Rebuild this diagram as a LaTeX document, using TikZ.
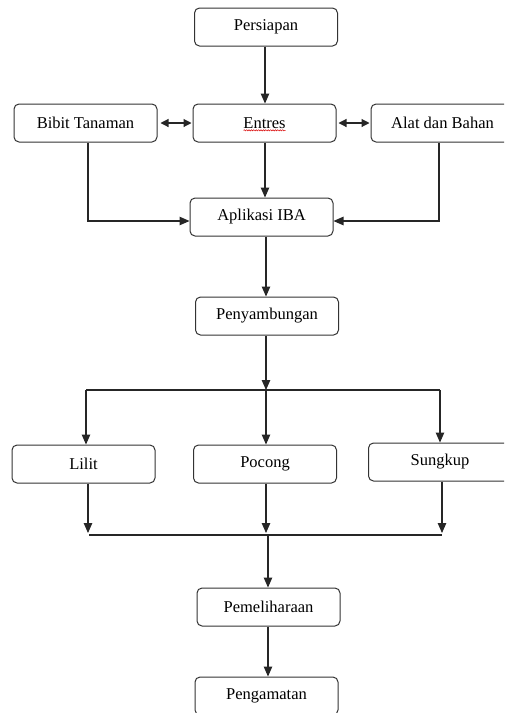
\documentclass[tikz,border=0pt]{standalone}
\usepackage{fontspec}
\setmainfont{Liberation Serif}
\usetikzlibrary{arrows.meta,decorations.pathmorphing,calc}
\begin{document}
\begin{tikzpicture}[x=1pt,y=-1pt,
  box/.style={draw=black!80,line width=1pt,rounded corners=5pt,minimum width=143pt,minimum height=38pt,inner sep=0pt,font=\fontsize{16.5}{19}\selectfont,fill=white},
  conn/.style={draw=black!85,line width=1.1pt},
  arr/.style={conn,-{Triangle[length=10pt,width=8.5pt]}},
  darr/.style={conn,{Triangle[length=8pt,width=8pt]}-{Triangle[length=8pt,width=8pt]}}]
\useasboundingbox (0,0) rectangle (504,713);
\clip (0,0) rectangle (504,713);
\fill[white] (0,0) rectangle (504,713);
% nodes
\node[box] (persiapan) at (266,27) {Persiapan};
\node[box] (entres) at (264.5,123) {Entres};
\node[box] (bibit) at (85.5,123) {Bibit Tanaman};
\node[box] (alat) at (442.5,123) {Alat dan Bahan};
\node[box] (aplikasi) at (261.5,217) {Aplikasi IBA};
\node[box] (penyambungan) at (267,316) {Penyambungan};
\node[box] (lilit) at (83.5,464) {Lilit};
\node[box] (pocong) at (265,464) {Pocong};
\node[box] (sungkup) at (440,462) {Sungkup};
\node[box] (pemeliharaan) at (268.5,607) {Pemeliharaan};
\node[box] (pengamatan) at (266.5,696) {Pengamatan};
% spell-check squiggle
\draw[red!85!black,line width=0.5pt,decorate,decoration={snake,amplitude=0.6pt,segment length=2.4pt}]
  ([xshift=-21pt,yshift=-2pt]entres.base) -- ([xshift=21pt,yshift=-2pt]entres.base);
% coordinates
\coordinate (split) at (266,390);
\coordinate (splitL) at (86,390);
\coordinate (splitR) at (440,390);
\coordinate (joinL) at (88,535);
\coordinate (joinC) at (266,535);
\coordinate (joinR) at (442,535);
\coordinate (joinM) at (268,535);
% connectors
\draw[arr] (persiapan.south -| 265,0) -- (entres.north -| 265,0);
\draw[darr,shorten <=3pt,shorten >=1pt] (bibit.east) -- (entres.west);
\draw[darr,shorten <=2pt,shorten >=1pt] (entres.east) -- (alat.west);
\draw[arr] (entres.south -| 265,0) -- (aplikasi.north -| 265,0);
\draw[arr] (bibit.south -| 88,0) |- ($(aplikasi.west)+(0,4)$);
\draw[arr] (alat.south -| 439,0) |- ($(aplikasi.east)+(0,4)$);
\draw[arr] (aplikasi.south -| 266,0) -- (penyambungan.north -| 266,0);
\draw[arr] (penyambungan.south -| 266,0) -- (split);
\draw[conn] (splitL) -- (splitR);
\draw[arr] (splitL) -- (lilit.north -| splitL);
\draw[arr] (split) -- (pocong.north -| split);
\draw[arr] (splitR) -- (sungkup.north -| splitR);
\draw[arr] (lilit.south -| joinL) -- ([yshift=2pt]joinL);
\draw[arr] (pocong.south -| joinC) -- ([yshift=2pt]joinC);
\draw[arr] (sungkup.south -| joinR) -- ([yshift=2pt]joinR);
\draw[conn] (89,535) -- (joinR);
\draw[arr] (joinM) -- (pemeliharaan.north -| joinM);
\draw[arr] (pemeliharaan.south -| joinM) -- (pengamatan.north -| joinM);
\end{tikzpicture}
\end{document}
